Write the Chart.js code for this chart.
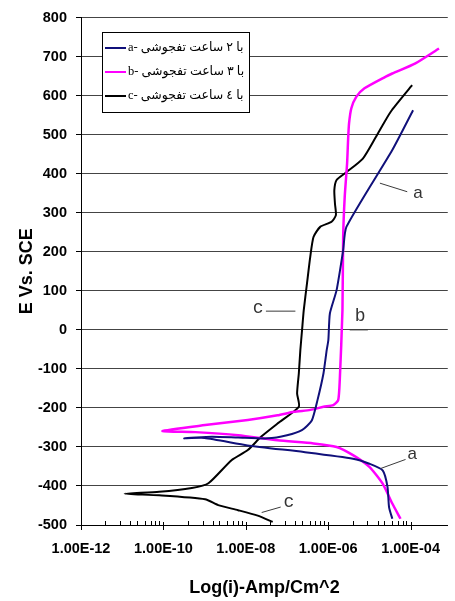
<!DOCTYPE html>
<html>
<head>
<meta charset="utf-8">
<script src="https://cdn.jsdelivr.net/npm/chart.js@4/dist/chart.umd.min.js"></script>
<style>
  html, body { margin: 0; padding: 0; background: #fff; overflow: hidden; }
  canvas { display: block; }
</style>
</head>
<body>
<canvas id="chart" width="455" height="601"></canvas>
<script>
// Polarization curves: current density (A/cm^2) against potential (mV vs. SCE)

// a- : 2 hours
const currentA = [1.15e-4, 3.6e-5, 2.77e-6, 2.31e-6, 1.6e-6, 1.1e-6, 1.01e-6, 9.2e-7, 7.7e-7, 5.5e-7,
  4.0e-7, 2.3e-7, 1.0e-7, 3.4e-8, 6.5e-9, 1.5e-9, 3.2e-10,
  1.0e-9, 1.1e-8, 2.55e-7, 4.0e-6, 1.0e-5, 2.1e-5, 2.75e-5, 3.0e-5, 3.6e-5];
const potentialA = [563, 461, 264, 204, 102, 42, -26, -52, -111, -180,
  -232, -257, -270, -278, -276, -274, -278,
  -277, -296, -313, -330, -343, -360, -402, -454, -484];

// b- : 3 hours
const currentB = [4.9e-4, 1.31e-4, 3.6e-5, 2.5e-5, 7.6e-6, 4.8e-6, 3.65e-6, 3.21e-6, 3.04e-6, 2.88e-6,
  2.52e-6, 2.31e-6, 2.22e-6, 1.91e-6, 1.75e-6, 1.33e-6, 7.7e-7, 3.7e-7, 1.47e-7, 5.9e-8,
  1.12e-8, 1.03e-9, 9.5e-11,
  6.0e-10, 6.5e-9, 5.9e-8, 4.4e-7, 1.6e-6, 4.0e-6, 1.0e-5, 2.1e-5, 3.6e-5, 5.7e-5];
const potentialB = [721, 683, 657, 649, 619, 597, 568, 529, 486, 427,
  341, 238, 50, -129, -180, -193, -197, -205, -210, -219,
  -231, -244, -259,
  -262, -270, -283, -291, -300, -321, -351, -394, -445, -484];

// c- : 4 hours
const currentC = [1.09e-4, 3.3e-5, 1.45e-5, 6.95e-6, 2.77e-6, 1.6e-6, 1.41e-6, 1.46e-6, 1.54e-6, 1.21e-6,
  6.4e-7, 4.4e-7, 3.67e-7, 3.06e-7, 2.55e-7, 2.32e-7, 2.11e-7, 1.94e-7, 1.76e-7, 1.94e-7,
  5.9e-8, 2.34e-8, 1.12e-8, 4.5e-9, 1.24e-9, 4.9e-10, 7.9e-11, 1.15e-11,
  7.9e-11, 1.03e-9, 2.14e-9, 6.5e-9, 1.95e-8, 4.5e-8];
const potentialC = [627, 559, 495, 439, 404, 384, 358, 324, 294, 277,
  264, 238, 187, 119, 50, -1, -52, -111, -163, -197,
  -240, -274, -308, -334, -393, -405, -415, -420,
  -424, -434, -449, -462, -476, -492];

const seriesLabels = ['a- با ٢ ساعت تفجوشی', 'b- با ٣ ساعت تفجوشی', 'c- با ٤ ساعت تفجوشی'];
const seriesColors = ['#10107a', '#ff00ff', '#000000'];

const xTickValues = [1e-12, 1e-10, 1e-8, 1e-6, 1e-4];
const xTickLabels = ['1.00E-12', '1.00E-10', '1.00E-08', '1.00E-06', '1.00E-04'];
// minor tick multipliers inside each major interval
const xMinorFactors = [3.9, 9, 15.8, 22.6, 35.5, 49, 64, 79];

// curve letters with their leader lines, in data units
const curveNotes = [
  { text: 'a', font: '17px "Liberation Sans"', at: [1.52e-4, 351], from: [1.8e-5, 376], to: [8.3e-5, 354] },
  { text: 'a', font: '17px "Liberation Sans"', at: [1.09e-4, -319], from: [1.9e-5, -355], to: [7.55e-5, -332] },
  { text: 'c', font: '18px "Liberation Mono"', at: [2.0e-8, 56], from: [3.08e-8, 48], to: [1.6e-7, 48] },
  { text: 'b', font: '18px "Liberation Mono"', at: [6.0e-6, 34], from: [3.33e-6, 0], to: [9.2e-6, 0] },
  { text: 'c', font: '18px "Liberation Mono"', at: [1.12e-7, -441], from: [2.43e-8, -468], to: [7.03e-8, -454] }
];

function points(xs, ys) {
  return xs.map((x, k) => ({ x: x, y: ys[k] }));
}

const axisFont = { family: '"Liberation Sans", Arial, sans-serif', size: 14.5, weight: 'bold' };
const titleFont = { family: '"Liberation Sans", Arial, sans-serif', size: 18, weight: 'bold' };

// small tick marks along the current axis
const currentAxisTicks = {
  id: 'currentAxisTicks',
  afterDraw(chart) {
    const ctx = chart.ctx, xs = chart.scales.x, base = chart.chartArea.bottom;
    ctx.save();
    ctx.strokeStyle = '#000';
    ctx.lineWidth = 1;
    ctx.beginPath();
    xTickValues.forEach((v, k) => {
      const px = Math.round(xs.getPixelForValue(v)) + 0.5;
      ctx.moveTo(px, base - 3);
      ctx.lineTo(px, base + 5);
      if (k < xTickValues.length - 1) {
        xMinorFactors.forEach(f => {
          const mx = Math.round(xs.getPixelForValue(v * f)) + 0.5;
          ctx.moveTo(mx, base - 4);
          ctx.lineTo(mx, base);
        });
      }
    });
    ctx.stroke();
    ctx.restore();
  }
};

// framed key in the upper left of the plot
const boxedKey = {
  id: 'boxedKey',
  afterDatasetsDraw(chart) {
    const ctx = chart.ctx;
    const left = 102, top = 32, w = 147, h = 80;
    ctx.save();
    ctx.fillStyle = '#fff';
    ctx.fillRect(left, top, w, h);
    ctx.strokeStyle = '#000';
    ctx.lineWidth = 1;
    ctx.strokeRect(left + 0.5, top + 0.5, w, h);
    chart.data.datasets.forEach((ds, k) => {
      const y = top + 16 + k * 24;
      ctx.strokeStyle = ds.borderColor;
      ctx.lineWidth = 2;
      ctx.beginPath();
      ctx.moveTo(105, y);
      ctx.lineTo(126, y);
      ctx.stroke();
      ctx.fillStyle = '#000';
      ctx.font = '12.5px "Liberation Serif", "DejaVu Sans", serif';
      ctx.textAlign = 'left';
      ctx.textBaseline = 'middle';
      ctx.direction = 'ltr';
      ctx.fillText(ds.label, 128, y);
    });
    ctx.restore();
  }
};

// letters naming each curve
const curveLetters = {
  id: 'curveLetters',
  afterDatasetsDraw(chart) {
    const ctx = chart.ctx, xs = chart.scales.x, ys = chart.scales.y;
    ctx.save();
    curveNotes.forEach(n => {
      ctx.strokeStyle = '#3a3a3a';
      ctx.lineWidth = 1;
      ctx.beginPath();
      ctx.moveTo(xs.getPixelForValue(n.from[0]), ys.getPixelForValue(n.from[1]));
      ctx.lineTo(xs.getPixelForValue(n.to[0]), ys.getPixelForValue(n.to[1]));
      ctx.stroke();
      ctx.fillStyle = '#333';
      ctx.font = n.font;
      ctx.textAlign = 'center';
      ctx.textBaseline = 'middle';
      ctx.fillText(n.text, xs.getPixelForValue(n.at[0]), ys.getPixelForValue(n.at[1]));
    });
    ctx.restore();
  }
};

new Chart(document.getElementById('chart'), {
  type: 'scatter',
  data: {
    datasets: [
      { label: seriesLabels[0], data: points(currentA, potentialA), borderColor: seriesColors[0], borderWidth: 2 },
      { label: seriesLabels[1], data: points(currentB, potentialB), borderColor: seriesColors[1], borderWidth: 2.5 },
      { label: seriesLabels[2], data: points(currentC, potentialC), borderColor: seriesColors[2], borderWidth: 2 }
    ].map(ds => Object.assign(ds, { showLine: true, pointRadius: 0, tension: 0.2, fill: false }))
  },
  options: {
    responsive: false,
    animation: false,
    devicePixelRatio: 1,
    layout: { padding: { top: 17, right: 0, bottom: 0, left: 0 } },
    plugins: { legend: { display: false }, tooltip: { enabled: false } },
    scales: {
      x: {
        type: 'logarithmic',
        min: 1e-12,
        max: 8e-4,
        afterBuildTicks(scale) { scale.ticks = xTickValues.map(v => ({ value: v })); },
        afterFit(scale) { scale.height = 76; },
        grid: { display: true, drawOnChartArea: false, drawTicks: false },
        border: { display: true, color: '#000', width: 1 },
        ticks: {
          autoSkip: false, maxRotation: 0, padding: 15, color: '#000', font: axisFont,
          callback: (v, k) => xTickLabels[k]
        },
        title: { display: true, text: 'Log(i)-Amp/Cm^2', color: '#000', font: titleFont, padding: { top: 0, bottom: 2 } }
      },
      y: {
        min: -500,
        max: 800,
        afterFit(scale) { scale.width = 81; },
        grid: { color: '#444', lineWidth: 1, drawTicks: true, tickLength: 5, tickColor: '#000' },
        border: { display: true, color: '#000', width: 1 },
        ticks: { stepSize: 100, padding: 9, color: '#000', font: axisFont },
        title: { display: true, text: 'E Vs. SCE', color: '#000', font: titleFont, padding: { top: 16, bottom: 0 } }
      }
    }
  },
  plugins: [currentAxisTicks, boxedKey, curveLetters]
});
</script>
</body>
</html>
